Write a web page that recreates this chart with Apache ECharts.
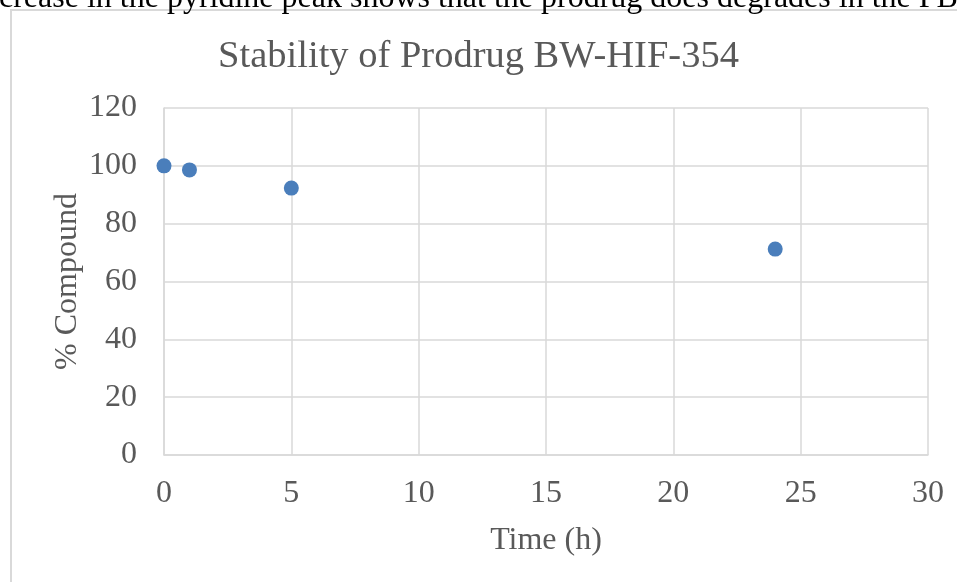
<html>
  <head>
    <script src="https://cdn.jsdelivr.net/npm/echarts@6/dist/echarts.min.js"></script>
    <title>Stability of Prodrug BW-HIF-354</title>
  </head>
  <body style="margin:0; background-color:#ffffff;">
    <div id="chart" style="width:957px; height:582px;"></div>
    <script>
      // hours after start, and percent of compound left
      const timeHours = [0, 1, 5, 24];
      const percentCompound = [100, 98.6, 92.3, 71.2];
      const xTicks = { min: 0, max: 30, step: 5 };
      const yTicks = { min: 0, max: 120, step: 20 };

      const gridColor = '#d9d9d9';
      const textColor = '#595959';
      const serif = '"Liberation Serif", "Times New Roman", serif';

      const chart = echarts.init(document.getElementById('chart'));

      const option = {
        backgroundColor: '#ffffff',
        animation: false,
        textStyle: { fontFamily: serif },
        graphic: [
          {
            // leftover line of document text above the chart
            type: 'text',
            left: -1,
            top: -26,
            z: 10,
            style: {
              text: 'crease in the pyridine peak shows that the prodrug does degrades in the PBS buffer.',
              font: '32px ' + serif,
              fill: '#000000'
            }
          },
          {
            type: 'rect',
            shape: { x: 11, y: 10, width: 1000, height: 700 },
            style: { fill: null, stroke: gridColor, lineWidth: 2 },
            z: -1
          }
        ],
        title: {
          text: 'Stability of Prodrug BW-HIF-354',
          left: 'center',
          top: 22,
          textStyle: { fontFamily: serif, fontSize: 38.5, fontWeight: 'normal', color: textColor }
        },
        grid: { left: 164, right: 29, top: 108, bottom: 127 },
        xAxis: {
          type: 'value',
          min: xTicks.min,
          max: xTicks.max,
          interval: xTicks.step,
          name: 'Time (h)',
          nameLocation: 'middle',
          nameMoveOverlap: false,
          nameGap: 61,
          nameTextStyle: { fontFamily: serif, fontSize: 32, color: textColor },
          axisLine: { show: true, lineStyle: { color: gridColor, width: 1.5 } },
          axisTick: { show: false },
          axisLabel: { fontFamily: serif, fontSize: 32, color: textColor, margin: 14 },
          splitLine: { show: true, lineStyle: { color: gridColor, width: 1.5 } }
        },
        yAxis: {
          type: 'value',
          min: yTicks.min,
          max: yTicks.max,
          interval: yTicks.step,
          name: '% Compound',
          nameLocation: 'middle',
          nameMoveOverlap: false,
          nameGap: 72,
          nameTextStyle: { fontFamily: serif, fontSize: 32, color: textColor },
          axisLine: { show: true, lineStyle: { color: gridColor, width: 1.5 } },
          axisTick: { show: false },
          axisLabel: { fontFamily: serif, fontSize: 32, color: textColor, margin: 27 },
          splitLine: { show: true, lineStyle: { color: gridColor, width: 1.5 } }
        },
        series: [
          {
            type: 'scatter',
            symbol: 'circle',
            symbolSize: 15,
            itemStyle: { color: '#4a7ebb', opacity: 1 },
            data: timeHours.map((t, i) => [t, percentCompound[i]])
          }
        ]
      };

      chart.setOption(option);
    </script>
  </body>
</html>
